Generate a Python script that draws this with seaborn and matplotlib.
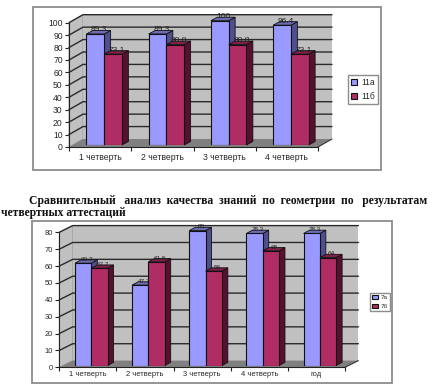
import matplotlib
matplotlib.use("Agg")
import matplotlib.pyplot as plt
from matplotlib.patches import Polygon, Rectangle
from matplotlib.ticker import FixedLocator
import pandas as pd
import seaborn as sns

sns.set_theme(style="white")
plt.rcParams["font.family"] = ["Liberation Sans", "DejaVu Sans"]

W, H = 434, 390

quarters_top = ["1 четверть", "2 четверть", "3 четверть", "4 четверть"]
series_top = ["11а", "11б"]
values_11a = [89.3, 89.3, 100, 96.4]
values_11b = [73.1, 80.8, 80.8, 73.1]
ticks_top = list(range(0, 101, 10))

quarters_bot = ["1 четверть", "2 четверть", "3 четверть", "4 четверть", "год"]
series_bot = ["7а", "7б"]
values_7a = [60.7, 47.7, 80, 78.3, 78.3]
values_7b = [57.7, 61.5, 56, 68, 64]
ticks_bot = list(range(0, 81, 10))

heading_1 = "Сравнительный   анализ  качества  знаний  по  геометрии  по   результатам"
heading_2 = "четвертных аттестаций"

BLUE, BLUE_SIDE, BLUE_TOP = "#9999ff", "#4f4f8c", "#6c6cb4"
RED, RED_SIDE, RED_TOP = "#b02c64", "#561030", "#801f48"
WALL, FLOOR, LINE = "#c0c0c0", "#808080", "#222222"


def rect(fig, l, t, r, b):
    return [l / W, 1 - b / H, (r - l) / W, (b - t) / H]


def chart(fig, cats, names, a, b, ticks, frame, front, depth, shift, base_up, top_y,
          fs_tick, fs_lab, lab_up, x_pad, legend_box, legend_kw):
    fig.add_artist(Rectangle((frame[0] / W, 1 - frame[3] / H), (frame[2] - frame[0]) / W,
                             (frame[3] - frame[1]) / H, transform=fig.transFigure,
                             fc="white", ec="#8c8c8c", lw=1.3, zorder=-5))
    l, r, y0, ytop = front
    n, ymax = len(cats), ticks[-1]
    ax = fig.add_axes(rect(fig, l, ytop, r, y0))
    ax.patch.set_visible(False)
    ax.set_xlim(-0.5, n - 0.5)
    ax.set_ylim(0, ymax)
    cw, uh = (r - l) / n, (y0 - ytop) / ymax
    dx, dy = depth[0] / cw, depth[1] / uh
    x0, x1 = -0.5, n - 0.5
    ax.add_patch(Polygon([(x0, 0), (x0 + dx, dy), (x0 + dx, ymax + dy), (x0, ymax)],
                         fc=WALL, ec="#999999", lw=0.6, clip_on=False, zorder=1))
    ax.add_patch(Rectangle((x0 + dx, dy), x1 - x0, ymax, fc=WALL, ec="none", clip_on=False, zorder=1))
    ax.add_patch(Polygon([(x0, 0), (x1, 0), (x1 + dx, dy), (x0 + dx, dy)],
                         fc=FLOOR, ec="none", clip_on=False, zorder=1.5))
    for t in ticks[1:]:
        ax.plot([x0, x0 + dx, x1 + dx], [t, t + dy, t + dy], color="#2a2a2a", lw=1.0,
                clip_on=False, zorder=1.2)
    ax.plot([x1, x1 + dx], [0, dy], color="#333333", lw=0.8, clip_on=False, zorder=1.6)
    ax.yaxis.set_major_locator(FixedLocator(ticks))
    ax.set_xticks(range(n), cats)
    ax.set_xticks([i - 0.5 for i in range(n + 1)], minor=True)
    ax.tick_params(axis="y", length=3, width=0.8, labelsize=fs_tick, pad=1.5, left=True, color="#222222")
    ax.tick_params(axis="x", which="major", length=0, labelsize=fs_tick, pad=x_pad)
    ax.tick_params(axis="x", which="minor", length=3, width=0.8, bottom=True, color="#222222")
    ax.grid(False)
    for s in ("top", "right"):
        ax.spines[s].set_visible(False)
    for s in ("left", "bottom"):
        ax.spines[s].set_color("#222222")
        ax.spines[s].set_linewidth(0.8)

    # bars sit slightly inside the chart's depth: a second axes moved up and right
    over = fig.add_axes(rect(fig, l + shift[0], ytop - base_up, r + shift[0], y0 - base_up))
    df = pd.DataFrame({"cat": cats * 2, "val": list(a) + list(b),
                       "ser": [names[0]] * n + [names[1]] * n})
    sns.barplot(data=df, x="cat", y="val", hue="ser", palette=[BLUE, RED], width=shift[2], gap=0,
                saturation=1, edgecolor="#111111", linewidth=0.8, ax=over, legend=False, zorder=3)
    over.set_xlim(-0.5, n - 0.5)
    over.set_ylim(0, ymax * top_y)
    over.axis("off")
    over.patch.set_visible(False)
    hs = []
    for j, (cont, side, top, vals) in enumerate(zip(over.containers, (BLUE_SIDE, RED_SIDE), (BLUE_TOP, RED_TOP), (a, b))):
        hs.append(cont[0])
        for p, v in zip(cont.patches, vals):
            xa, xb, h = p.get_x(), p.get_x() + p.get_width(), p.get_height()
            ddx, ddy = shift[3] / cw, shift[4] / ((y0 - ytop) / (ymax * top_y))
            z = 2 + j
            over.add_patch(Polygon([(xb, 0), (xb + ddx, ddy), (xb + ddx, h + ddy), (xb, h)],
                                   fc=side, ec="#111111", lw=0.6, clip_on=False, zorder=z))
            over.add_patch(Polygon([(xa, h), (xb, h), (xb + ddx, h + ddy), (xa + ddx, h + ddy)],
                                   fc=top, ec="#111111", lw=0.6, clip_on=False, zorder=z))
            p.set_zorder(z + 0.5)
            over.text((xa + xb) / 2 + ddx * 0.6, h + ddy + lab_up, f"{v:g}", ha="center", va="center",
                      fontsize=fs_lab, color="#222222", zorder=9, clip_on=False)
    bx, by = legend_box
    leg = fig.legend(hs, names, loc="center", bbox_to_anchor=(bx / W, 1 - by / H), frameon=True,
                     fancybox=False, edgecolor="#8c8c8c", framealpha=1, **legend_kw)
    leg.get_frame().set_linewidth(1.0)


fig = plt.figure(figsize=(W / 100, H / 100), dpi=100, facecolor="white")

chart(fig, quarters_top, series_top, values_11a, values_11b, ticks_top,
      frame=(33, 7, 381, 170), front=(69, 318, 147, 22.7), depth=(14, 8),
      shift=(4, 0, 0.57, 6.5, 3.5), base_up=2, top_y=1.0, fs_tick=6.2, fs_lab=6.0, lab_up=0.5, x_pad=4.5,
      legend_box=(363, 89.5),
      legend_kw=dict(fontsize=6.2, handlelength=0.75, handleheight=0.7, handletextpad=0.45,
                     labelspacing=0.55, borderpad=0.35, borderaxespad=0))

chart(fig, quarters_bot, series_bot, values_7a, values_7b, ticks_bot,
      frame=(32, 221, 392, 383), front=(59.3, 345, 367.3, 232.3), depth=(13.4, 6.7),
      shift=(3.4, 0, 0.57, 6, 3.3), base_up=1.7, top_y=1.0, fs_tick=5.4, fs_lab=4.6, lab_up=0.3, x_pad=2.5,
      legend_box=(380, 302),
      legend_kw=dict(fontsize=4.6, handlelength=0.9, handleheight=0.6, handletextpad=0.4,
                     labelspacing=0.5, borderpad=0.35, borderaxespad=0))

serif = ["Liberation Serif", "DejaVu Serif"]
fig.text(29 / W, 1 - 200.7 / H, heading_1, family=serif, weight="bold", fontsize=8.36,
         color="#111111", ha="left", va="center")
fig.text(1 / W, 1 - 213 / H, heading_2, family=serif, weight="bold", fontsize=8.36,
         color="#111111", ha="left", va="center")

fig.savefig("out.png", dpi=100)
